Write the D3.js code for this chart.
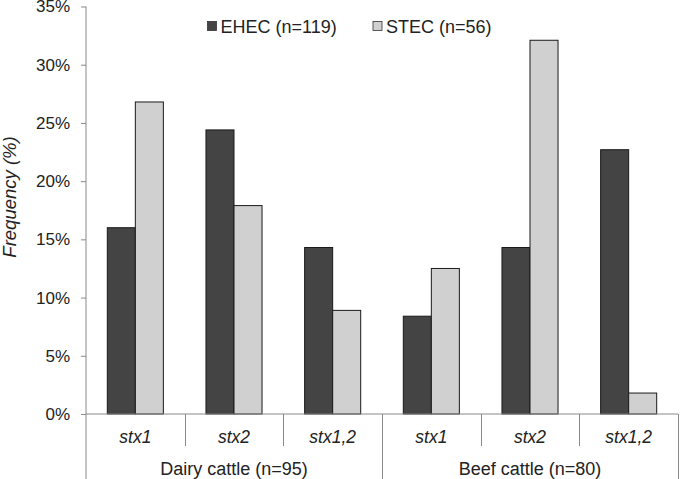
<!DOCTYPE html>
<html>
<head>
<meta charset="utf-8">
<script src="https://cdn.jsdelivr.net/npm/d3@7"></script>
<style>
  html, body { margin: 0; padding: 0; background: #fff; }
  svg { display: block; font-family: "Liberation Sans", Arial, sans-serif; }
</style>
</head>
<body>
<svg id="chart" width="680" height="479"></svg>
<script>
const groups = ["Dairy cattle (n=95)", "Beef cattle (n=80)"];
const genes = ["stx1", "stx2", "stx1,2"];
const seriesNames = ["EHEC (n=119)", "STEC (n=56)"];
const ehec = [16.0, 24.4, 14.3, 8.4, 14.3, 22.7];
const stec = [26.8, 17.9, 8.9, 12.5, 32.1, 1.8];
const yTicks = [0, 5, 10, 15, 20, 25, 30, 35];
const colors = ["#444444", "#d0d0d0"];

const svg = d3.select("#chart");
const mLeft = 86, mRight = 678, mTop = 6.5, mBottom = 414;

const cats = [];
groups.forEach((g, gi) => genes.forEach((s, si) => cats.push({ key: gi + "-" + si, group: g, gene: s, gi: gi })));
const values = [ehec, stec];

const x = d3.scaleBand().domain(cats.map(d => d.key)).range([mLeft, mRight]).paddingInner(0).paddingOuter(0);
const xs = d3.scaleBand().domain([0, 1]).range([0, x.bandwidth()]).paddingInner(0).paddingOuter(0.76);
const y = d3.scaleLinear().domain([0, 35]).range([mBottom, mTop]);

const axisColor = "#8a8a8a";

// bars
cats.forEach((c, i) => {
  [0, 1].forEach(s => {
    const v = values[s][i];
    svg.append("rect")
      .attr("x", x(c.key) + xs(s))
      .attr("y", y(v))
      .attr("width", xs.bandwidth())
      .attr("height", y(0) - y(v))
      .attr("fill", colors[s])
      .attr("stroke", "#1a1a1a")
      .attr("stroke-width", 1);
  });
});

// y axis
const yAxis = d3.axisLeft(y).tickValues(yTicks).tickFormat(d => d + "%").tickSize(5).tickPadding(11);
const gy = svg.append("g").attr("transform", `translate(${mLeft},0)`).call(yAxis);
gy.select(".domain").remove();
gy.selectAll(".tick line").attr("stroke", axisColor);
gy.selectAll(".tick text").attr("font-size", 17).attr("fill", "#222").attr("font-family", "Liberation Sans, Arial, sans-serif");
svg.append("line").attr("x1", mLeft).attr("x2", mLeft).attr("y1", mTop).attr("y2", 479).attr("stroke", axisColor);

// x axis baseline
svg.append("line").attr("x1", mLeft).attr("x2", mRight).attr("y1", mBottom).attr("y2", mBottom).attr("stroke", axisColor);

// category separators + labels
cats.forEach((c, i) => {
  const xr = x(c.key) + x.bandwidth();
  const isGroupEnd = (i % genes.length) === genes.length - 1;
  svg.append("line")
    .attr("x1", Math.round(xr) + 0.5).attr("x2", Math.round(xr) + 0.5)
    .attr("y1", mBottom).attr("y2", isGroupEnd ? 479 : 446)
    .attr("stroke", axisColor);
  svg.append("text")
    .attr("x", x(c.key) + x.bandwidth() / 2)
    .attr("y", 443)
    .attr("text-anchor", "middle")
    .attr("font-size", 17.5)
    .attr("font-style", "italic")
    .attr("fill", "#222")
    .text(c.gene);
});

// group labels
groups.forEach((g, gi) => {
  const first = x(gi + "-0");
  const last = x(gi + "-" + (genes.length - 1)) + x.bandwidth();
  svg.append("text")
    .attr("x", (first + last) / 2)
    .attr("y", 475)
    .attr("text-anchor", "middle")
    .attr("font-size", 18)
    .attr("fill", "#222")
    .text(g);
});

// y label
svg.append("text")
  .attr("transform", `translate(16,197) rotate(-90)`)
  .attr("text-anchor", "middle")
  .attr("font-size", 18.5)
  .attr("font-style", "italic")
  .attr("fill", "#222")
  .text("Frequency (%)");

// legend
const legendX = [207.5, 373];
seriesNames.forEach((n, i) => {
  svg.append("rect").attr("x", legendX[i]).attr("y", 21.5).attr("width", 9).attr("height", 9)
    .attr("fill", colors[i]).attr("stroke", "#333").attr("stroke-width", 0.8);
  svg.append("text").attr("x", legendX[i] + 13).attr("y", 32.5).attr("font-size", 18).attr("fill", "#222").text(n);
});
</script>
</body>
</html>
